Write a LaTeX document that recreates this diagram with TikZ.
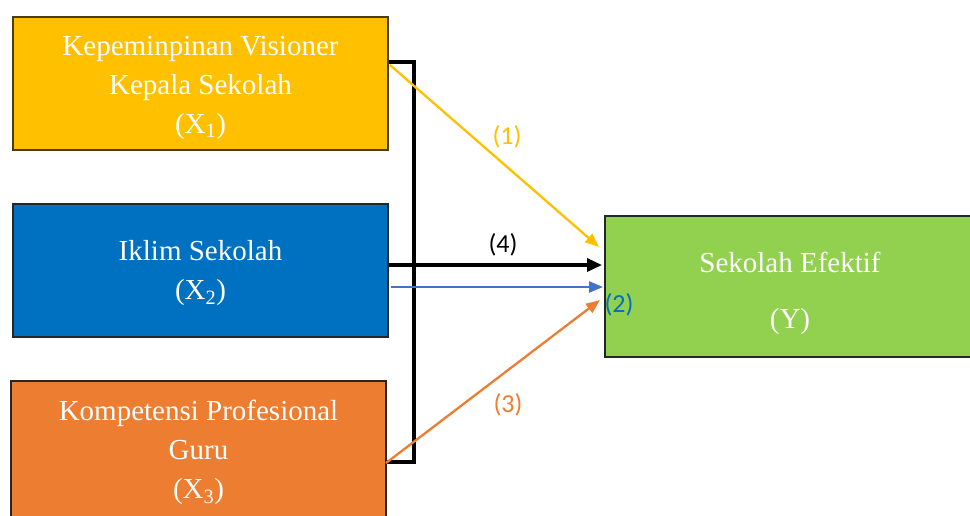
\documentclass[tikz,border=0pt]{standalone}
\usepackage{fontspec}
\setmainfont{Liberation Serif}
\newfontfamily\labfont{Carlito}
\usetikzlibrary{arrows.meta}
\definecolor{cyel}{HTML}{FFC000}
\definecolor{cblu}{HTML}{0070C0}
\definecolor{cora}{HTML}{ED7D31}
\definecolor{cgrn}{HTML}{92D050}
\definecolor{carr}{HTML}{4472C4}
\definecolor{cedge}{HTML}{4A3E10}
\tikzset{
  varbox/.style={draw=#1, line width=1.3pt, rectangle, minimum width=375pt, minimum height=133pt, inner sep=0pt},
  boxtext/.style={text=white, align=center, font=\fontsize{29}{39}\selectfont, inner sep=0pt},
  lab/.style={font=\labfont\fontsize{26}{28}\selectfont, inner sep=0pt},
  bigtip/.style={-{Triangle[length=15pt,width=13pt]}},
  smalltip/.style={-{Triangle[length=14pt,width=11pt]}}
}
\begin{document}
\begin{tikzpicture}[x=1pt,y=-1pt]
\useasboundingbox (0,0) rectangle (970,515);
\node[varbox=cedge, fill=cyel] (x1) at (200.5,83.5) {};
\node[boxtext, yshift=-4pt] (x1t) at (x1.center) {Kepeminpinan Visioner\\Kepala Sekolah\\(X\textsubscript{1})};
\node[varbox=black!85, fill=cblu] (x2) at (200.5,270.5) {};
\node[boxtext, yshift=-2.5pt] (x2t) at (x2.center) {Iklim Sekolah\\(X\textsubscript{2})};
\node[varbox=black!85, fill=cora, minimum height=138pt] (x3) at (198.5,450) {};
\node[boxtext, yshift=-2.5pt] (x3t) at (x3.center) {Kompetensi Profesional\\Guru\\(X\textsubscript{3})};
\node[varbox=black!85, fill=cgrn, minimum width=370pt, minimum height=141pt] (y) at (790,286.5) {};
\node[boxtext, font=\fontsize{29}{56}\selectfont, yshift=-6.5pt] (yt) at (y.center) {Sekolah Efektif\\(Y)};
% bracket
\coordinate (b1) at (414,62);
\coordinate (b2) at (414,462);
\draw[line width=3.5pt, line cap=butt] (x1.east|-b1) -- (b1) -- (b2) -- (x3.east|-b2);
% arrows
\coordinate (a1s) at (390,65);
\coordinate (a1e) at (599,247);
\draw[cyel, line width=2.3pt, smalltip] (a1s) -- (a1e);
\coordinate (a4s) at (388,265);
\coordinate (a4e) at (602,265);
\draw[black, line width=3.5pt, bigtip] (x2.east|-a4s) -- (a4e);
\coordinate (a2s) at (391,287);
\coordinate (a2e) at (603,287);
\draw[carr, line width=2.3pt, smalltip] (a2s) -- (a2e);
\coordinate (a3s) at (386,463);
\coordinate (a3e) at (600,300);
\draw[cora, line width=2.3pt, smalltip] (a3s) -- (a3e);
% labels
\node[lab, text=cyel] (l1) at (507,137) {(1)};
\node[lab, text=black] (l4) at (503,245) {(4)};
\node[lab, text=cblu] (l2) at (619,305) {(2)};
\node[lab, text=cora] (l3) at (508,405) {(3)};
\end{tikzpicture}
\end{document}
